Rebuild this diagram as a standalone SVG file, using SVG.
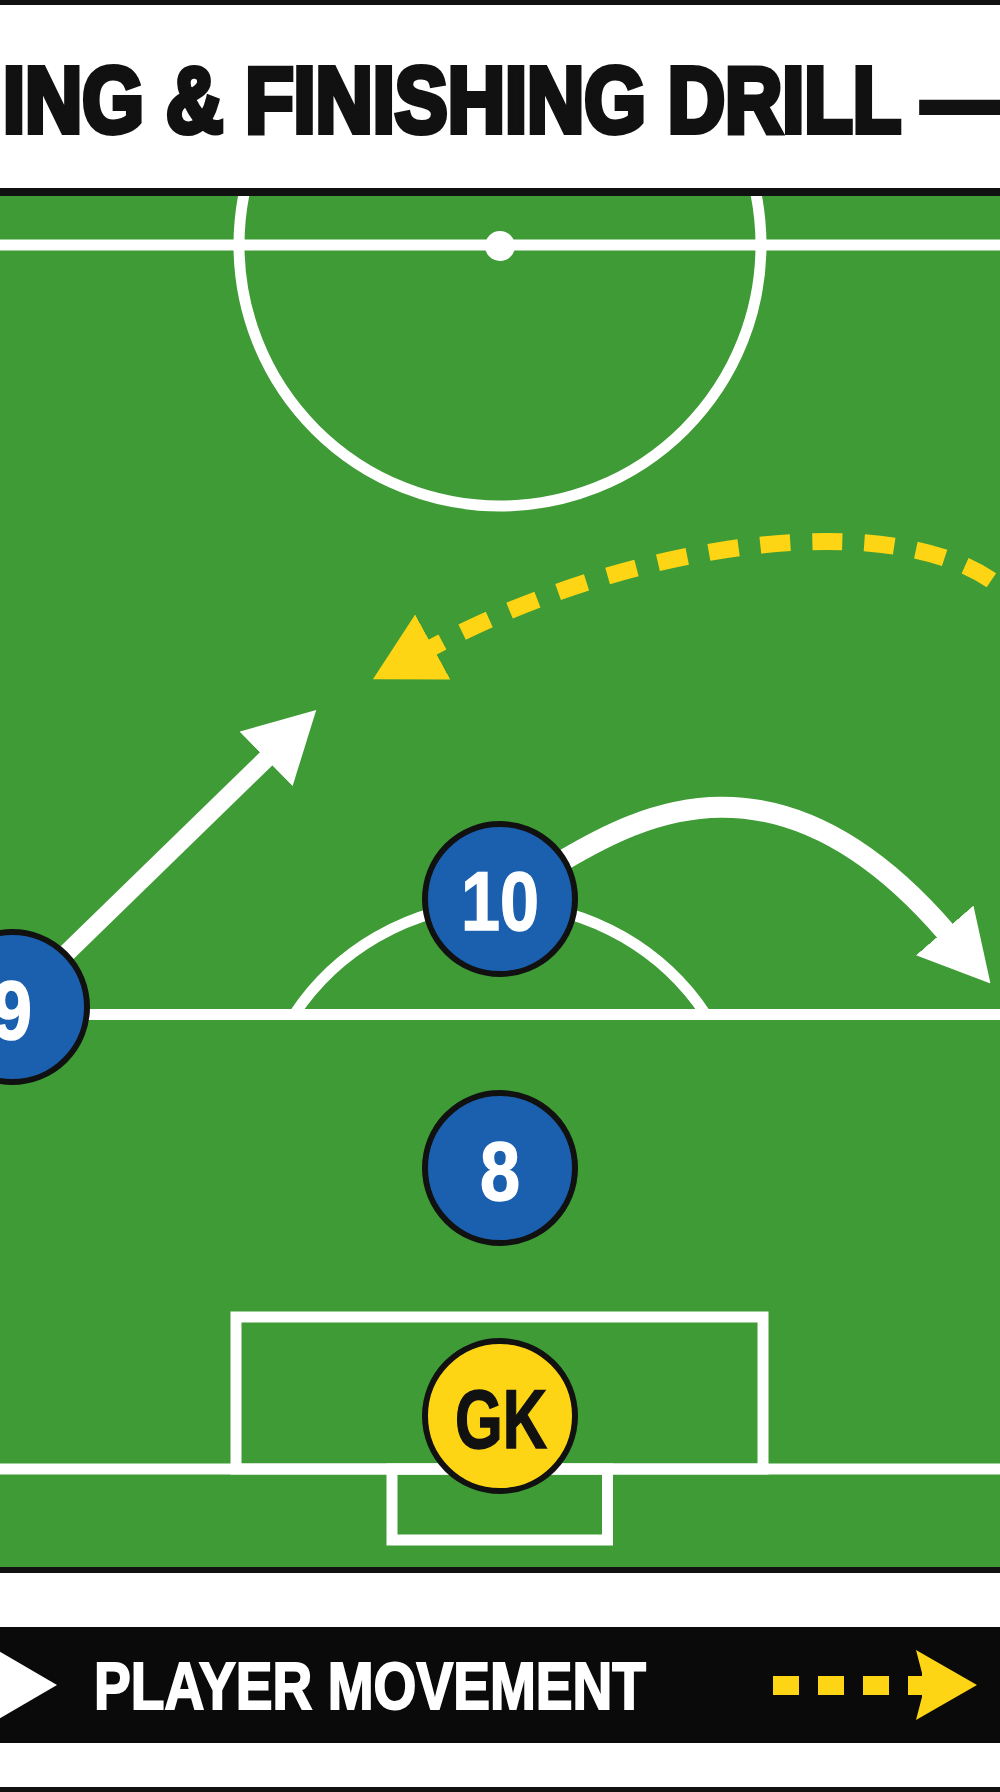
<svg xmlns="http://www.w3.org/2000/svg" width="1000" height="1792" viewBox="0 0 1000 1792">
<style>
.line{fill:none;stroke:#ffffff;stroke-width:11}
.player{fill:#1B5FAF;stroke:#111111;stroke-width:6}
.keeper{fill:#FDD515;stroke:#111111;stroke-width:6}
.num{font-family:"Liberation Sans",Arial,sans-serif;font-weight:bold;font-size:84px;fill:#ffffff;stroke:#ffffff;stroke-width:1.5;text-anchor:middle}
.gk{fill:#111111;stroke:#111111}
.run{fill:none;stroke:#ffffff;stroke-linecap:butt}
.move{fill:none;stroke:#FDD515;stroke-width:17;stroke-dasharray:30 22;stroke-dashoffset:17}
</style>
<defs>
<clipPath id="pitchClip"><rect x="0" y="196" width="1000" height="1371"/></clipPath>
<marker id="headW" markerUnits="userSpaceOnUse" markerWidth="70" markerHeight="76" viewBox="0 0 70 76" refX="2" refY="38" orient="auto"><polygon points="0,0 70,38 0,76" fill="#ffffff"/></marker>
<marker id="headY" markerUnits="userSpaceOnUse" markerWidth="68" markerHeight="74" viewBox="0 0 68 74" refX="2" refY="37" orient="auto-start-reverse"><polygon points="0,0 68,37 0,74" fill="#FDD515"/></marker>
</defs>
<rect x="0" y="0" width="1000" height="1792" fill="#ffffff"/>
<g id="header">
<rect x="0" y="0" width="1000" height="5" fill="#111111"/>
<text x="3" y="132" font-family="Liberation Sans,Arial,sans-serif" font-weight="bold" font-size="92" fill="#111111" stroke="#111111" stroke-width="6" textLength="998" lengthAdjust="spacingAndGlyphs">ING &amp; FINISHING DRILL —</text>
<rect x="0" y="188" width="1000" height="8" fill="#111111"/>
</g>
<g id="pitch" clip-path="url(#pitchClip)">
<rect x="0" y="196" width="1000" height="1371" fill="#3E9B35"/>
<line class="line" x1="0" y1="245" x2="1000" y2="245"/>
<circle class="line" cx="500" cy="245" r="261"/>
<circle cx="500" cy="246" r="15" fill="#ffffff"/>
<line class="line" x1="0" y1="1014.5" x2="1000" y2="1014.5"/>
<path class="line" d="M 294.5 1014 A 247 247 0 0 1 705.5 1014"/>
<rect class="line" x="236" y="1317" width="527" height="152"/>
<line class="line" x1="0" y1="1469" x2="1000" y2="1469"/>
<rect class="line" x="392" y="1469" width="215.5" height="71"/>
</g>
<rect x="0" y="1567" width="1000" height="6" fill="#111111"/>
<g id="connectors">
<path class="run" stroke-width="18" d="M 40 979 L 267.5 757.5" marker-end="url(#headW)"/>
<path class="run" stroke-width="21" d="M 562 861 C 640 815, 780 740, 946 932" marker-end="url(#headW)"/>
<path class="move" d="M 431 648 C 631 540, 910 500, 1010 595" marker-start="url(#headY)"/>
</g>
<g id="node-9">
<circle class="player" cx="12" cy="1007" r="75"/>
<text class="num" x="12" y="1039" textLength="40" lengthAdjust="spacingAndGlyphs">9</text>
</g>
<g id="node-10">
<circle class="player" cx="500" cy="899" r="75"/>
<text class="num" x="500" y="930" textLength="78" lengthAdjust="spacingAndGlyphs">10</text>
</g>
<g id="node-8">
<circle class="player" cx="500" cy="1168" r="75"/>
<text class="num" x="500" y="1200" textLength="40" lengthAdjust="spacingAndGlyphs">8</text>
</g>
<g id="node-gk">
<circle class="keeper" cx="500" cy="1416" r="75"/>
<text class="num gk" x="501" y="1448" textLength="92" lengthAdjust="spacingAndGlyphs">GK</text>
</g>
<g id="legend">
<rect x="0" y="1627" width="1000" height="116" fill="#0A0A0A"/>
<polygon points="-10,1646 57,1685 -10,1724" fill="#ffffff"/>
<text x="94" y="1709" font-family="Liberation Sans,Arial,sans-serif" font-weight="bold" font-size="67" fill="#ffffff" stroke="#ffffff" stroke-width="2" textLength="552" lengthAdjust="spacingAndGlyphs">PLAYER MOVEMENT</text>
<rect x="773" y="1676" width="26" height="19" fill="#FDD515"/>
<rect x="818" y="1676" width="26" height="19" fill="#FDD515"/>
<rect x="863" y="1676" width="26" height="19" fill="#FDD515"/>
<rect x="908" y="1676" width="16" height="19" fill="#FDD515"/>
<polygon points="916,1650 977,1685 916,1720 922,1697 922,1673" fill="#FDD515"/>
<rect x="0" y="1787" width="1000" height="5" fill="#111111"/>
</g>
</svg>
